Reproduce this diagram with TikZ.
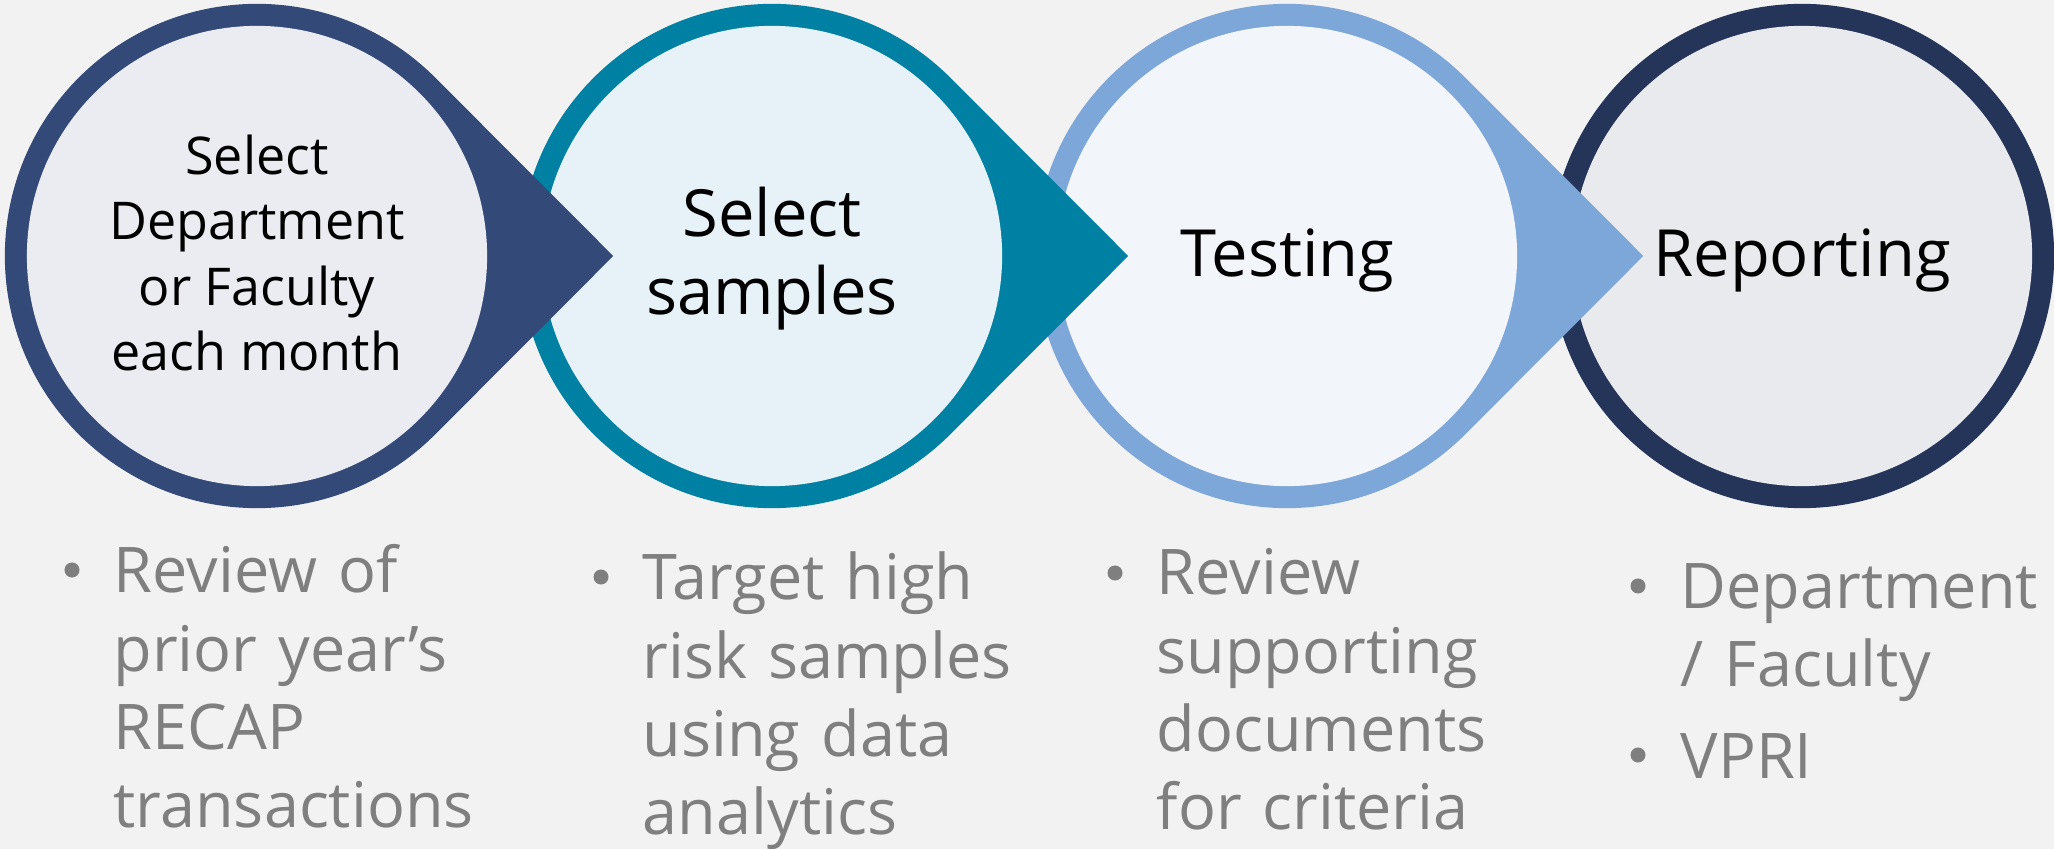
\documentclass[tikz,border=0pt]{standalone}
\usepackage{fontspec}
\setmainfont{Open Sans}
\definecolor{pagebg}{HTML}{F2F2F2}
\definecolor{ringA}{HTML}{334978}
\definecolor{fillA}{HTML}{EBECF1}
\definecolor{ringB}{HTML}{0080A3}
\definecolor{fillB}{HTML}{E6F2F7}
\definecolor{ringC}{HTML}{7DA6D9}
\definecolor{fillC}{HTML}{F2F5FA}
\definecolor{ringD}{HTML}{253559}
\definecolor{fillD}{HTML}{E9EAEE}
\definecolor{notegray}{HTML}{7F7F7F}
\tikzset{
  steptxt/.style={align=center, inner sep=0, text=black,
    font=\fontsize{18.5pt}{22.2pt}\selectfont},
  notes/.style={anchor=base west, text width=4.2cm, align=left, inner sep=0,
    text=notegray, font=\fontsize{17.9pt}{22.2pt}\selectfont},
  dot/.style={circle, fill=notegray, inner sep=0, minimum size=0.15cm}
}
\begin{document}
\begin{tikzpicture}[x=0.01cm, y=-0.01cm]
  \fill[pagebg] (0,0) rectangle (2054,849);
  \useasboundingbox (0,0) rectangle (2054,849);
  % last step has no pointer, the others overlap the ring to their right
  \fill[ringD] (1802,256) circle (2.52cm);
  \fill[fillD] (1802,256) circle (2.30cm);
  \foreach \cx/\ring/\inner in {1287/ringC/fillC, 772/ringB/fillB, 257/ringA/fillA} {
    \coordinate (c) at (\cx,256);
    \fill[\ring] ([shift={(45:2.52cm)}]c) arc[start angle=45, end angle=315, radius=2.52cm]
      -- ([xshift=3.56cm]c) -- cycle;
    \fill[\inner] (c) circle (2.30cm);
  }

  \node[steptxt, font=\fontsize{14.8pt}{18.5pt}\selectfont] (pick) at (257,253)
    {Select\\Department\\or Faculty\\each month};
  \node[steptxt] (sample) at (772,259) {Select\\samples};
  \node[steptxt] (test) at (1287,260) {Testing};
  \node[steptxt] (report) at (1802,260) {Reporting};

  % notes under each step
  \node[dot] (dotA) at (72,570) {};
  \node[notes] (noteA) at (113,593) {Review of\\prior year’s\\RECAP\\transactions};
  \node[dot] (dotB) at (601,577) {};
  \node[notes] (noteB) at (642,600) {Target high\\risk samples\\using data\\analytics};
  \node[dot] (dotC) at (1115,573) {};
  \node[notes] (noteC) at (1156,595) {Review\\supporting\\documents\\for criteria};
  \node[dot] (dotD) at (1638,586) {};
  \node[notes] (noteD) at (1680,608) {Department\\/ Faculty};
  \node[dot] (dotE) at (1638,755) {};
  \node[notes] (noteE) at (1680,778) {VPRI};
\end{tikzpicture}
\end{document}
